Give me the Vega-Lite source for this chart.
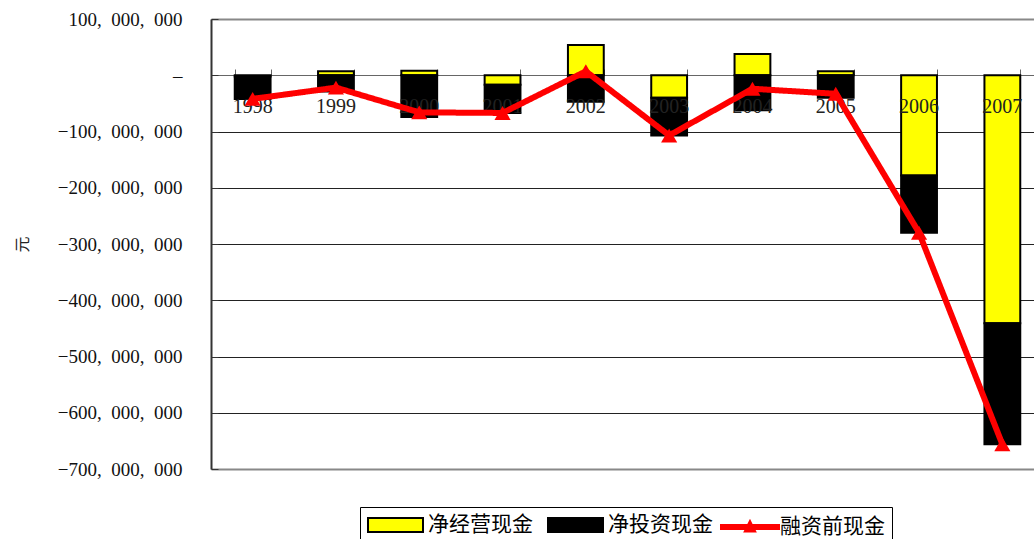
{
  "$schema": "https://vega.github.io/schema/vega-lite/v6.json",
  "width": 823,
  "height": 450,
  "autosize": {"type": "none"},
  "padding": {"left": 211, "top": 19, "right": 0, "bottom": 70},
  "background": "white",
  "config": {
    "view": {"stroke": null},
    "font": "Liberation Serif",
    "axis": {"labelFont": "Liberation Serif"},
    "legend": {
      "orient": "none",
      "direction": "horizontal",
      "title": null,
      "padding": 7,
      "labelFont": "Noto Sans CJK SC",
      "labelFontSize": 21,
      "labelColor": "#000",
      "symbolSize": 400
    }
  },
  "data": {
    "values": [
      {"year": "1998", "series": "净经营现金", "value": -2000000},
      {"year": "1998", "series": "净投资现金", "value": -40000000},
      {"year": "1998", "series": "融资前现金", "value": -42000000},
      {"year": "1999", "series": "净经营现金", "value": 7000000},
      {"year": "1999", "series": "净投资现金", "value": -29000000},
      {"year": "1999", "series": "融资前现金", "value": -22000000},
      {"year": "2000", "series": "净经营现金", "value": 8000000},
      {"year": "2000", "series": "净投资现金", "value": -74000000},
      {"year": "2000", "series": "融资前现金", "value": -66000000},
      {"year": "2001", "series": "净经营现金", "value": -17000000},
      {"year": "2001", "series": "净投资现金", "value": -50000000},
      {"year": "2001", "series": "融资前现金", "value": -67000000},
      {"year": "2002", "series": "净经营现金", "value": 54000000},
      {"year": "2002", "series": "净投资现金", "value": -47000000},
      {"year": "2002", "series": "融资前现金", "value": 7000000},
      {"year": "2003", "series": "净经营现金", "value": -40000000},
      {"year": "2003", "series": "净投资现金", "value": -67000000},
      {"year": "2003", "series": "融资前现金", "value": -107000000},
      {"year": "2004", "series": "净经营现金", "value": 38000000},
      {"year": "2004", "series": "净投资现金", "value": -62000000},
      {"year": "2004", "series": "融资前现金", "value": -24000000},
      {"year": "2005", "series": "净经营现金", "value": 7000000},
      {"year": "2005", "series": "净投资现金", "value": -40000000},
      {"year": "2005", "series": "融资前现金", "value": -33000000},
      {"year": "2006", "series": "净经营现金", "value": -178000000},
      {"year": "2006", "series": "净投资现金", "value": -102000000},
      {"year": "2006", "series": "融资前现金", "value": -280000000},
      {"year": "2007", "series": "净经营现金", "value": -441000000},
      {"year": "2007", "series": "净投资现金", "value": -215000000},
      {"year": "2007", "series": "融资前现金", "value": -656000000}
    ]
  },
  "encoding": {
    "x": {
      "field": "year",
      "type": "ordinal",
      "scale": {"range": [0, 833], "paddingInner": 0.57, "paddingOuter": 0.285},
      "axis": {
        "orient": "bottom",
        "offset": -394,
        "labels": false,
        "title": null,
        "grid": false,
        "tickSize": -6,
        "tickBand": "extent",
        "domainColor": "#666",
        "tickColor": "#666",
        "domainWidth": 1
      }
    },
    "y": {
      "field": "value",
      "type": "quantitative",
      "scale": {"domain": [-700000000, 100000000], "nice": false},
      "axis": {
        "values": [100000000, 0, -100000000, -200000000, -300000000, -400000000, -500000000, -600000000, -700000000],
        "title": "元",
        "titleFont": "Noto Sans CJK SC",
        "titleFontSize": 16,
        "titleFontWeight": "normal",
        "titleColor": "#222",
        "titlePadding": 27,
        "labelFont": "Liberation Serif",
        "labelFontSize": 19,
        "labelColor": "#111",
        "labelPadding": 36,
        "tickSize": -7,
        "tickColor": "#333",
        "domainColor": "#333",
        "domainWidth": 2,
        "grid": true,
        "gridColor": {"condition": {"test": "datum.value === 100000000 || datum.value === -700000000 || datum.value === 0", "value": "#888"}, "value": "#222"},
        "gridWidth": {"condition": {"test": "datum.value === 100000000 || datum.value === -700000000", "value": 2}, "value": 1},
        "labelExpr": "datum.value === 0 ? '–\u2002\u2002' : replace(replace(format(datum.value, ','), ',000', ',\u2002000'), ',000', ',\u2002000')"
      }
    }
  },
  "layer": [
    {
      "transform": [{"filter": "datum.series !== '融资前现金'"}],
      "mark": {"type": "bar", "stroke": "#000", "strokeWidth": 2},
      "encoding": {
        "color": {
          "field": "series",
          "type": "nominal",
          "scale": {
            "domain": ["净经营现金", "净投资现金"],
            "range": ["#ffff00", "#000000"]
          },
          "legend": {
            "legendX": 149,
            "legendY": 488,
            "symbolType": "M-2.75,-0.7L2.75,-0.7L2.75,0.7L-2.75,0.7Z",
            "symbolStrokeColor": "#000",
            "symbolStrokeWidth": 2,
            "symbolOffset": 17.5,
            "labelOffset": 21.5,
            "columnPadding": 11
          }
        },
        "order": {"field": "series", "sort": "descending"}
      }
    },
    {
      "transform": [{"filter": "datum.series === '净经营现金'"}],
      "mark": {"type": "text", "font": "Liberation Serif", "fontSize": 20, "color": "#222", "dy": 32, "baseline": "middle"},
      "encoding": {
        "y": {"datum": 0},
        "text": {"field": "year"}
      }
    },
    {
      "transform": [{"filter": "datum.series === '融资前现金'"}],
      "mark": {"type": "line", "strokeWidth": 6, "color": "#ff0000"},
      "encoding": {
        "strokeDash": {
          "field": "series",
          "type": "nominal",
          "scale": {"domain": ["融资前现金"], "range": [[1, 0]]},
          "legend": {
            "legendX": 149,
            "legendY": 488,
            "strokeColor": "#000",
            "symbolType": "M-3,0L3,0M-0.2,0.25L0,-0.15L0.2,0.25Z",
            "symbolStrokeColor": "#ff0000",
            "symbolFillColor": "#ff0000",
            "symbolStrokeWidth": 6,
            "symbolOffset": 370,
            "labelOffset": 17
          }
        }
      }
    },
    {
      "transform": [{"filter": "datum.series === '融资前现金'"}],
      "mark": {"type": "point", "shape": "triangle-up", "filled": true, "size": 260, "opacity": 1, "color": "#ff0000"}
    }
  ]
}
